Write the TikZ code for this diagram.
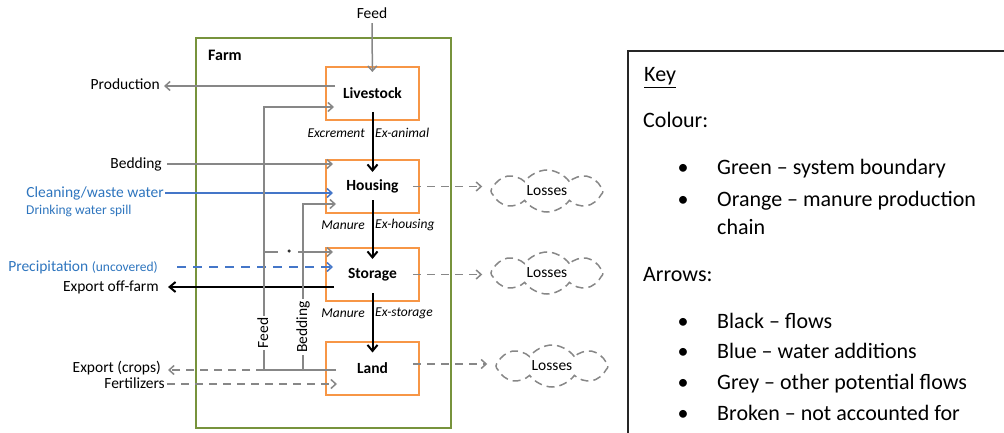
\documentclass[tikz,border=0pt]{standalone}
\usepackage{fontspec}
\setmainfont{Carlito}
\usetikzlibrary{arrows.meta,shapes.symbols,positioning}

\definecolor{farmgreen}{RGB}{119,147,60}
\definecolor{chainorange}{RGB}{247,150,70}
\definecolor{flowgrey}{RGB}{135,135,135}
\definecolor{waterblue}{RGB}{68,118,200}
\definecolor{textblue}{RGB}{46,117,190}

\newcommand\sidefont{\fontsize{15.5}{18}\selectfont}
\newcommand\smallside{\fontsize{13.5}{16}\selectfont}

\tikzset{
  stagebox/.style={draw=chainorange,line width=2pt,minimum width=93pt,minimum height=53pt,
    inner sep=0pt,font=\sidefont\bfseries},
  stagelbl/.style={inner sep=0pt,font=\smallside\itshape},
  sidelbl/.style={inner xsep=0pt,inner ysep=0pt,text height=10pt,text depth=2pt,font=\sidefont},
  blackflow/.style={line width=2pt,-{Straight Barb[length=6pt,width=10pt]}},
  greyflow/.style={flowgrey,line width=1.5pt,-{Straight Barb[length=5pt,width=9pt]}},
  waterflow/.style={waterblue,line width=1.5pt,-{Straight Barb[length=5pt,width=9pt]}},
  notcounted/.style={dash pattern=on 8pt off 6pt},
  lossescloud/.style={cloud,cloud puffs=8,cloud puff arc=110,aspect=2.6,draw=flowgrey,line width=1.5pt,
    dash pattern=on 8pt off 5pt,minimum width=112pt,minimum height=42pt,inner sep=0pt,font=\sidefont},
  keytxt/.style={anchor=base west,inner sep=0pt,font=\fontsize{22}{26}\selectfont},
  keydot/.style={anchor=base,inner sep=0pt,font=\fontsize{22}{26}\selectfont}
}

\begin{document}
\begin{tikzpicture}[x=1pt,y=-1pt]
\useasboundingbox (0,0) rectangle (1004,433);

% farm boundary
\node[draw=farmgreen,line width=2pt,minimum width=255pt,minimum height=390pt,inner sep=0pt] (farm) at (323.5,233) {};
\node[anchor=west,inner sep=0pt,font=\fontsize{16}{19}\selectfont\bfseries] (farmname) at (208,55) {Farm};

% manure production chain
\node[stagebox] (livestock) at (372.5,93.5) {Livestock};
\node[stagebox] (housing) at (372.5,186.5) {Housing};
\node[stagebox] (storage) at (372.5,274.5) {Storage};
\node[stagebox] (land) at (372.5,368) {Land};

\draw[blackflow,shorten <=-9pt,shorten >=-13pt] (livestock) -- (housing);
\draw[blackflow,shorten <=-14pt,shorten >=-12pt] (housing) -- (storage);
\draw[blackflow,shorten <=-9pt,shorten >=-12pt] (storage) -- (land);

\node[stagelbl,anchor=east] (excrement) at (365,133) {Excrement};
\node[stagelbl,anchor=west] (exanimal) at (375,133) {Ex-animal};
\node[stagelbl,anchor=east] (manureA) at (365,225) {Manure};
\node[stagelbl,anchor=west] (exhousing) at (375,225) {Ex-housing};
\node[stagelbl,anchor=east] (manureB) at (365,313) {Manure};
\node[stagelbl,anchor=west] (exstorage) at (375,313) {Ex-storage};

% inputs and outputs on the left
\node[sidelbl] (feed) at (372,15) {Feed};
\node[sidelbl,anchor=east] (production) at (160,86) {Production};
\node[sidelbl,anchor=east] (beddingin) at (162,164) {Bedding};
\node[sidelbl,anchor=east,text=textblue] (cleaning) at (164,193) {Cleaning/waste water};
\node[anchor=west,inner sep=0pt,font=\smallside,text=textblue] (drinking) at (26,211) {Drinking water spill};
\node[sidelbl,anchor=east,text=textblue] (precip) at (158,267) {Precipitation {\smallside(uncovered)}};
\node[sidelbl,anchor=east] (exportoff) at (159,287) {Export off-farm};
\node[sidelbl,anchor=east] (exportcrops) at (161,368) {Export (crops)};
\node[sidelbl,anchor=east] (fert) at (165,384) {Fertilizers};

\draw[greyflow,shorten <=2pt,shorten >=-6pt] (feed) -- (livestock);
\draw[greyflow,shorten <=-10pt,shorten >=4pt] (production.east -| livestock.west) -- (production.east);
\draw[greyflow,shorten <=5pt,shorten >=-8pt] (beddingin.east) -- (beddingin.east -| housing.west);
\draw[waterflow,shorten <=1pt,shorten >=-8pt] (cleaning.east) -- (cleaning.east -| housing.west);
\draw[waterflow,dash pattern=on 9pt off 7pt,shorten <=19pt,shorten >=-8pt] (precip.east) -- (precip.east -| storage.west);
\draw[blackflow,shorten <=-9pt,shorten >=9pt] (exportoff.east -| storage.west) -- (exportoff.east);
\draw[greyflow,notcounted,shorten <=2pt,shorten >=-12pt] (fert.east) -- (fert.east -| land.west);

% feed and bedding grown on the land
\coordinate (feedfoot) at (264,370);
\coordinate (beddingfoot) at (303,370);
\coordinate (dotin) at ([xshift=8pt,yshift=22.5pt]storage.west);
\draw[flowgrey,line width=1.5pt,shorten <=-11pt] (feedfoot -| land.west) -- (feedfoot);
\draw[greyflow,notcounted,shorten >=7pt] (feedfoot) -- (feedfoot -| exportcrops.east);
\draw[greyflow] (feedfoot) |- ([xshift=9pt,yshift=-13.5pt]livestock.west);
\draw[greyflow] (beddingfoot) |- ([xshift=11pt,yshift=-17.5pt]housing.west);
\draw[greyflow,dash pattern=on 14pt off 20pt on 60pt] (feedfoot |- dotin) -- (dotin);
\node[circle,fill=black!80,inner sep=0pt,minimum size=3.5pt] (feeddot) at (289,251) {};
\node[sidelbl,rotate=90,fill=white,inner xsep=2pt] (feedlbl) at (264,333) {Feed};
\node[sidelbl,rotate=90,fill=white,inner xsep=2pt] (beddinglbl) at (303,327) {Bedding};

% losses
\node[lossescloud] (lossA) at (547,191) {Losses};
\node[lossescloud] (lossB) at (547,273) {Losses};
\node[lossescloud] (lossC) at (552,366) {Losses};
\draw[greyflow,notcounted,shorten <=-7pt,shorten >=8pt] (housing.east) -- (housing.east -| lossA.west);
\draw[greyflow,notcounted,shorten <=-7pt,shorten >=8pt] (storage.east) -- (storage.east -| lossB.west);
\draw[greyflow,notcounted,shorten <=-7pt,shorten >=8pt] ([yshift=4pt]land.east) -- ([yshift=4pt]land.east -| lossC.west);

% key
\node[draw=black!85,line width=1.8pt,anchor=north west,minimum width=400pt,minimum height=420pt] (key) at (627,50) {};
\node[keytxt] (keyhead) at (644,82) {\underline{Key}};
\node[keytxt] (colourhead) at (643,128) {Colour:};
\node[keydot] (dotA) at (683,175) {\textbullet};
\node[keytxt] (greentxt) at (717,175) {Green \textendash\ system boundary};
\node[keydot] (dotB) at (683,206) {\textbullet};
\node[keytxt] (orangetxt) at (717,206) {Orange \textendash\ manure production};
\node[keytxt] (chaintxt) at (717,234) {chain};
\node[keytxt] (arrowhead) at (643,281) {Arrows:};
\node[keydot] (dotC) at (683,328) {\textbullet};
\node[keytxt] (blacktxt) at (717,328) {Black \textendash\ flows};
\node[keydot] (dotD) at (683,358) {\textbullet};
\node[keytxt] (bluetxt) at (717,358) {Blue \textendash\ water additions};
\node[keydot] (dotE) at (683,389) {\textbullet};
\node[keytxt] (greytxt) at (717,389) {Grey \textendash\ other potential flows};
\node[keydot] (dotF) at (683,420) {\textbullet};
\node[keytxt] (brokentxt) at (717,420) {Broken \textendash\ not accounted for};
\end{tikzpicture}
\end{document}
